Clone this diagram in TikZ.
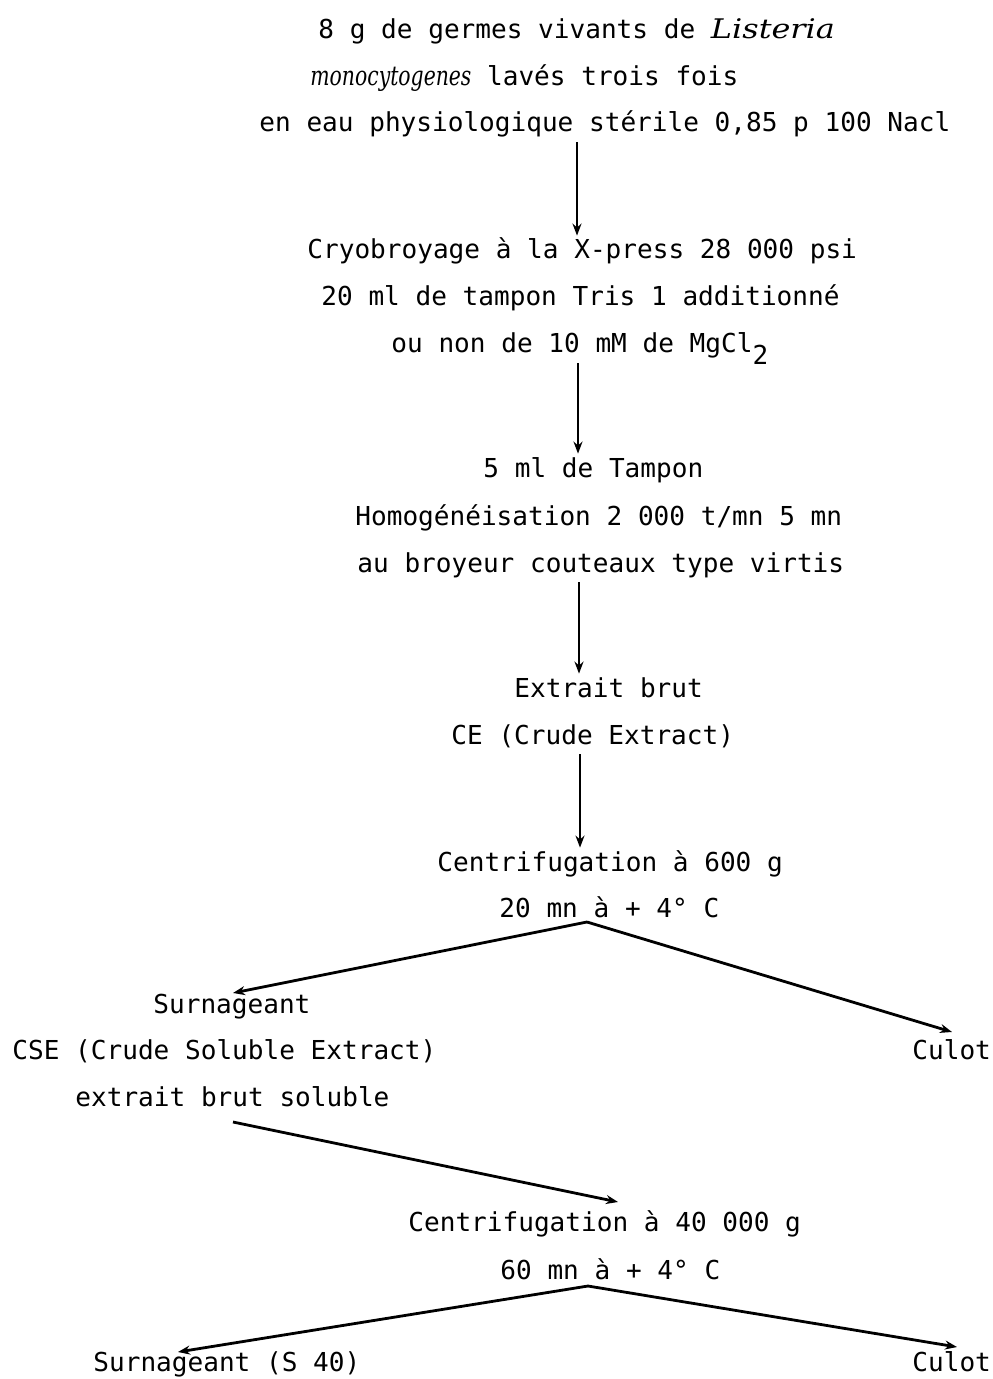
\documentclass[tikz,border=0pt]{standalone}
\usepackage{fontspec}
\usepackage{graphicx}
\usetikzlibrary{arrows.meta}
\newfontfamily\tw{DejaVu Sans Mono}
\newfontfamily\scrit{DejaVu Serif Condensed}
\newcommand{\spit}[3]{\resizebox{#1}{\height}{\scrit\itshape\fontsize{#2}{#2}\selectfont #3}}
\begin{document}
\begin{tikzpicture}[x=0.5pt,y=-0.5pt,
  txt/.style={anchor=base west,inner xsep=0pt,inner ysep=2pt,text height=9.5pt,text depth=3pt,font=\tw\fontsize{13.04}{15}\selectfont},
  arr/.style={line width=1.4pt,-{Stealth[length=6pt,width=4.5pt]}}]
\useasboundingbox (0,0) rectangle (992,1379);
% text lines
\node[txt] (l1) at (318,39) {8 g de germes vivants de \spit{62pt}{13.5}{Listeria}};
\node[txt] (l2) at (310,86) {\spit{80.5pt}{13.5}{monocytogenes} lavés trois fois};
\node[txt] (l3) at (259,132) {en eau physiologique stérile 0,85 p 100 Nacl};
\node[txt] (l4) at (307,259) {Cryobroyage à la X-press 28 000 psi};
\node[txt] (l5) at (321,306) {20 ml de tampon Tris 1 additionné};
\node[txt] (l6) at (391,353) {ou non de 10 mM de MgCl\raisebox{-6pt}{2}};
\node[txt] (l7) at (483,477) {5 ml de Tampon};
\node[txt] (l8) at (355,525) {Homogénéisation 2 000 t/mn 5 mn};
\node[txt] (l9) at (357,572) {au broyeur couteaux type virtis};
\node[txt] (l10) at (514,697) {Extrait brut};
\node[txt] (l11) at (451,744) {CE (Crude Extract)};
\node[txt] (l12) at (437,871) {Centrifugation à 600 g};
\node[txt] (l13) at (499,917) {20 mn à + 4° C};
\node[txt] (l14) at (153,1013) {Surnageant};
\node[txt] (l15) at (12,1059) {CSE (Crude Soluble Extract)};
\node[txt] (l16) at (75,1106) {extrait brut soluble};
\node[txt] (c1) at (912,1059) {Culot};
\node[txt] (l17) at (408,1231) {Centrifugation à 40 000 g};
\node[txt] (l18) at (500,1279) {60 mn à + 4° C};
\node[txt] (l19) at (93,1371) {Surnageant (S 40)};
\node[txt] (c2) at (912,1371) {Culot};
% vertical arrows
\coordinate (x1) at (577,0);
\coordinate (x2) at (578,0);
\coordinate (x3) at (579,0);
\coordinate (x4) at (580,0);
\draw[arr] (x1 |- l3.south) -- (x1 |- l4.north);
\draw[arr] (x2 |- l6.south) -- (x2 |- l7.north);
\draw[arr] (x3 |- l9.south) -- (x3 |- l10.north);
\draw[arr] (x4 |- l11.south) -- (x4 |- l12.north);
% first split
\coordinate (ap1) at (587,922);
\coordinate (t1) at (233,993);
\coordinate (t2) at (952,1032);
\draw[arr] (ap1) -- (t1);
\draw[arr] (ap1) -- (t2);
% diagonal
\coordinate (d1) at (233,1122);
\coordinate (d2) at (618,1202);
\draw[arr] (d1) -- (d2);
% second split
\coordinate (ap2) at (588,1286);
\coordinate (t3) at (178,1352);
\coordinate (t4) at (957,1347);
\draw[arr] (ap2) -- (t3);
\draw[arr] (ap2) -- (t4);
\end{tikzpicture}
\end{document}
